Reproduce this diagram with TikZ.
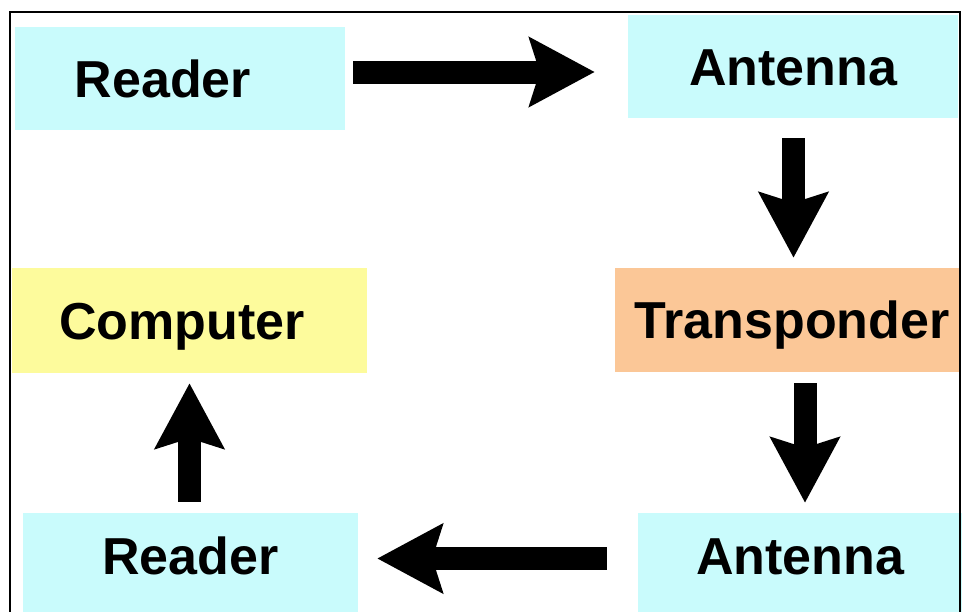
\documentclass[tikz,border=0pt]{standalone}
\usepackage{fontspec}
\setmainfont{Liberation Sans}
\usetikzlibrary{arrows.meta}
\definecolor{cyanbox}{HTML}{C9FBFC}
\definecolor{yellowbox}{HTML}{FDFB9C}
\definecolor{orangebox}{HTML}{FBC797}
\tikzset{
  box/.style={rectangle, draw=none, inner sep=0pt, font=\fontsize{52}{60}\bfseries\selectfont,
    text height=37pt, text depth=0pt},
  lowbox/.style={box, text depth=18pt},
  bigarrow/.style={line width=23pt, -{Stealth[length=65pt, width=68pt, inset=10pt]}},
  frame/.style={line width=1.5pt, black}
}
\begin{document}
\begin{tikzpicture}[x=1pt, y=-1pt]
\useasboundingbox (0,0) rectangle (962,611);
\clip (0,0) rectangle (962,611);
\fill[white] (0,0) rectangle (962,611);
% boxes
\node[box, fill=cyanbox, minimum width=330pt, minimum height=103pt] (r1) at (180,78.5) {Reader\hspace*{34pt}};
\node[box, fill=cyanbox, minimum width=330pt, minimum height=103pt] (an1) at (793,66.5) {Antenna};
\node[box, fill=orangebox, minimum width=345pt, minimum height=104pt] (tr) at (787.5,320) {\hspace*{9pt}Transponder};
\node[box, fill=yellowbox, minimum width=355pt, minimum height=105pt] (comp) at (189.5,320.5) {Computer\hspace*{15pt}};
\node[lowbox, fill=cyanbox, minimum width=335pt, minimum height=103pt] (r2) at (190.5,564.5) {Reader};
\node[lowbox, fill=cyanbox, minimum width=324pt, minimum height=103pt] (an2) at (800,564.5) {Antenna};
% arrows
\draw[bigarrow, shorten <=8pt, shorten >=33pt] (r1.east |- 0,72) -- (an1.west |- 0,72);
\draw[bigarrow, shorten <=20pt, shorten >=10pt] (an1.south -| 793.5,0) -- (tr.north -| 793.5,0);
\draw[bigarrow, shorten <=11pt, shorten >=10pt] (tr.south -| 805,0) -- (an2.north -| 805,0);
\draw[bigarrow, shorten <=31pt, shorten >=19pt] (an2.west |- 0,558.5) -- (r2.east |- 0,558.5);
\draw[bigarrow, shorten <=11pt, shorten >=10pt] (r2.north -| 189.5,0) -- (comp.south -| 189.5,0);
% frame
\draw[frame] (10,620) -- (10,12) -- (960,12) -- (960,620);
\end{tikzpicture}
\end{document}
